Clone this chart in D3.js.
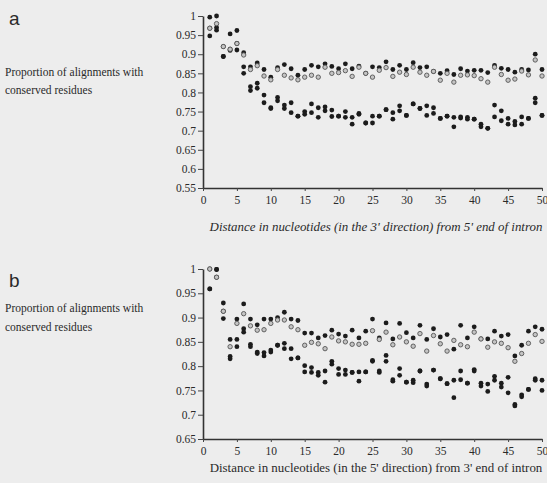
<!DOCTYPE html>
<html><head><meta charset="utf-8">
<script src="https://cdn.jsdelivr.net/npm/d3@7"></script>
<style>
html,body{margin:0;padding:0;background:#ededed;}
svg{display:block;}
text{fill:#2a2a2a;}
</style></head>
<body>
<svg id="chart" width="547" height="483"></svg>
<script>
const positions = [1,2,3,4,5,6,7,8,9,10,11,12,13,14,15,16,17,18,19,20,21,22,23,24,25,26,27,28,29,30,31,32,33,34,35,36,37,38,39,40,41,42,43,44,45,46,47,48,49,50];
const xTicks = [0,5,10,15,20,25,30,35,40,45,50];
const aYTicks = [0.55,0.6,0.65,0.7,0.75,0.8,0.85,0.9,0.95,1];
const bYTicks = [0.65,0.7,0.75,0.8,0.85,0.9,0.95,1];

// Panel a
const aUpper = [0.997,1.0,0.92,0.953,0.962,0.904,0.867,0.877,0.86,0.84,0.865,0.873,0.862,0.845,0.86,0.871,0.867,0.875,0.868,0.862,0.875,0.862,0.869,0.85,0.867,0.865,0.88,0.86,0.871,0.86,0.878,0.865,0.867,0.855,0.85,0.857,0.847,0.862,0.856,0.858,0.858,0.852,0.871,0.863,0.86,0.853,0.86,0.859,0.9,0.86];
const aOpen = [0.968,0.98,0.92,0.913,0.928,0.898,0.86,0.87,0.843,0.833,0.86,0.845,0.838,0.833,0.84,0.845,0.84,0.866,0.85,0.852,0.857,0.842,0.866,0.85,0.84,0.858,0.865,0.842,0.853,0.847,0.866,0.853,0.845,0.855,0.832,0.85,0.827,0.845,0.846,0.844,0.836,0.827,0.866,0.847,0.832,0.835,0.856,0.846,0.885,0.843];
const aLower1 = [0.948,0.963,0.894,0.91,0.911,0.867,0.815,0.824,0.793,0.76,0.787,0.767,0.773,0.738,0.75,0.77,0.76,0.762,0.754,0.738,0.75,0.735,0.745,0.72,0.738,0.738,0.755,0.747,0.765,0.74,0.77,0.758,0.765,0.76,0.732,0.738,0.735,0.736,0.735,0.73,0.717,0.706,0.767,0.752,0.732,0.724,0.736,0.732,0.785,0.74];
const aLower2 = [0.968,0.97,0.894,0.913,0.928,0.85,0.805,0.811,0.773,0.758,0.778,0.758,0.747,0.738,0.743,0.747,0.735,0.752,0.737,0.738,0.735,0.717,0.743,0.72,0.72,0.738,0.755,0.73,0.752,0.74,0.77,0.758,0.74,0.745,0.732,0.738,0.71,0.733,0.73,0.73,0.71,0.706,0.736,0.726,0.717,0.715,0.717,0.732,0.773,0.74];

// Panel b
const bUpper = [1.0,0.999,0.93,0.855,0.897,0.928,0.897,0.885,0.897,0.897,0.9,0.911,0.897,0.894,0.868,0.868,0.858,0.863,0.874,0.866,0.862,0.874,0.858,0.872,0.897,0.858,0.889,0.856,0.888,0.869,0.858,0.884,0.855,0.877,0.86,0.865,0.835,0.884,0.858,0.881,0.856,0.856,0.872,0.862,0.865,0.821,0.843,0.872,0.881,0.876];
const bOpen = [1.0,0.983,0.913,0.84,0.888,0.908,0.883,0.874,0.875,0.888,0.895,0.895,0.881,0.875,0.843,0.849,0.846,0.836,0.86,0.852,0.85,0.845,0.845,0.847,0.873,0.855,0.87,0.844,0.86,0.85,0.841,0.867,0.831,0.863,0.846,0.831,0.853,0.844,0.84,0.87,0.856,0.839,0.85,0.847,0.838,0.81,0.826,0.847,0.865,0.851];
const bLower1 = [0.959,0.983,0.898,0.82,0.855,0.877,0.845,0.829,0.828,0.833,0.843,0.847,0.836,0.817,0.801,0.797,0.787,0.79,0.81,0.795,0.792,0.787,0.788,0.788,0.812,0.79,0.822,0.772,0.795,0.767,0.771,0.79,0.763,0.792,0.774,0.764,0.771,0.79,0.765,0.793,0.765,0.763,0.779,0.765,0.777,0.721,0.741,0.752,0.774,0.771];
const bLower2 = [0.959,0.999,0.913,0.815,0.84,0.87,0.84,0.826,0.821,0.829,0.843,0.836,0.815,0.817,0.788,0.787,0.781,0.767,0.804,0.783,0.783,0.787,0.769,0.788,0.81,0.787,0.81,0.769,0.781,0.767,0.766,0.79,0.759,0.792,0.774,0.764,0.735,0.772,0.765,0.79,0.759,0.748,0.771,0.757,0.745,0.718,0.737,0.752,0.771,0.75];

const svg = d3.select("#chart");
const serif = "'Liberation Serif','Times New Roman',serif";
const sans = "'Liberation Sans',Arial,sans-serif";
const x = d3.scaleLinear().domain([0,50]).range([203,542]);

function panel(cfg){
  const y = d3.scaleLinear().domain(cfg.domain).range(cfg.range);
  const g = svg.append("g");
  // y axis
  const ya = g.append("g").attr("transform",`translate(${x(0)},0)`)
    .call(d3.axisLeft(y).tickValues(cfg.yTicks).tickSize(5).tickPadding(2).tickSizeOuter(0)
      .tickFormat(d => String(+d.toFixed(2))));
  const xa = g.append("g").attr("transform",`translate(0,${cfg.range[0]})`)
    .call(d3.axisBottom(x).tickValues(xTicks).tickSize(3).tickPadding(5).tickSizeOuter(0));
  [ya,xa].forEach(a=>{
    a.select(".domain").attr("stroke","#333").attr("stroke-width",1.6);
    a.selectAll(".tick line").attr("stroke","#444").attr("stroke-width",1);
    a.selectAll(".tick text").attr("font-family",serif).attr("font-size",11.5).attr("fill","#2a2a2a");
  });
  // dots
  const filled = [cfg.lower1,cfg.lower2,cfg.upper];
  filled.forEach(arr=>{
    g.append("g").selectAll("circle").data(arr).join("circle")
      .attr("cx",(d,i)=>x(positions[i])).attr("cy",d=>y(d)).attr("r",2.4)
      .attr("fill","#1c1c1c");
  });
  g.append("g").selectAll("circle").data(cfg.open).join("circle")
    .attr("cx",(d,i)=>x(positions[i])).attr("cy",d=>y(d)).attr("r",2.2)
    .attr("fill","#c4c4c4").attr("stroke","#555").attr("stroke-width",0.9);
  // labels
  svg.append("text").attr("x",9).attr("y",cfg.letterY).attr("font-family",sans)
    .attr("font-size",19).text(cfg.letter);
  svg.append("text").attr("x",5).attr("y",cfg.titleY1).attr("font-family",serif)
    .attr("font-size",11.5).text("Proportion of alignments with");
  svg.append("text").attr("x",5).attr("y",cfg.titleY2).attr("font-family",serif)
    .attr("font-size",11.5).text("conserved residues");
  const xt = svg.append("text").attr("x",376).attr("y",cfg.xTitleY).attr("text-anchor","middle")
    .attr("font-family",serif).attr("font-size",11.5).attr("font-style",cfg.italic?"italic":"normal")
    .text(cfg.xTitle);
  const w = xt.node().getComputedTextLength();
  xt.attr("font-size", 11.5*333/w);
}

panel({domain:[0.55,1], range:[188,16], yTicks:aYTicks, upper:aUpper, open:aOpen, lower1:aLower1, lower2:aLower2,
  letter:"a", letterY:25, titleY1:76, titleY2:94, xTitleY:231, italic:true,
  xTitle:"Distance in nucleotides (in the 3' direction)  from 5' end of intron"});
panel({domain:[0.65,1], range:[439,269], yTicks:bYTicks, upper:bUpper, open:bOpen, lower1:bLower1, lower2:bLower2,
  letter:"b", letterY:287, titleY1:312, titleY2:331, xTitleY:472, italic:false,
  xTitle:"Distance in nucleotides (in the 5' direction)  from 3' end of intron"});
</script>
</body></html>
